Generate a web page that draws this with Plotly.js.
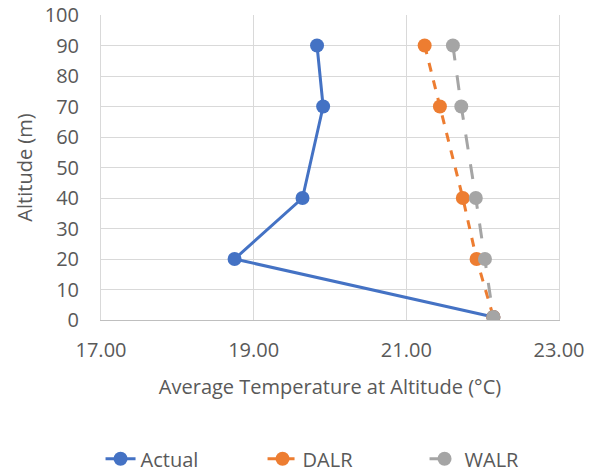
<!DOCTYPE html>
<html><head><meta charset="utf-8">
<script src="https://cdn.plot.ly/plotly-3.0.1.min.js"></script>
<style>html,body{margin:0;padding:0;background:#fff}#chart{width:600px;height:474px}</style>
</head><body><div id="chart"></div>
<script>
const altitude = [90, 70, 40, 20, 1];
const actualTemp = [19.83, 19.91, 19.64, 18.75, 22.14];
const dalrTemp = [21.24, 21.44, 21.74, 21.92, 22.14];
const walrTemp = [21.61, 21.72, 21.91, 22.03, 22.14];
const seriesNames = ["Actual", "DALR", "WALR"];
const xTicks = [17, 19, 21, 23];
const xTickLabels = ["17.00", "19.00", "21.00", "23.00"];

const font = "'Open Sans', sans-serif";
const mk = (x, name, color, dash) => ({
  x: x, y: altitude, name: name, type: "scatter", mode: "lines+markers",
  line: {color: color, width: 3, dash: dash},
  marker: {color: color, size: 14}
});
const data = [
  mk(actualTemp, seriesNames[0], "#4472C4", "solid"),
  mk(dalrTemp, seriesNames[1], "#ED7D31", "dash"),
  mk(walrTemp, seriesNames[2], "#A5A5A5", "longdash")
];
const layout = {
  width: 600, height: 474,
  margin: {l: 101, r: 41, t: 15, b: 154, autoexpand: false},
  paper_bgcolor: "#fff", plot_bgcolor: "#fff",
  font: {family: font, size: 20, color: "#595959"},
  showlegend: true,
  legend: {orientation: "h", x: -0.001, xanchor: "left", y: -0.455, yanchor: "middle",
           font: {size: 20, color: "#595959"}, traceorder: "normal", entrywidth: 117},
  xaxis: {range: [17, 23], tickvals: xTicks, ticktext: xTickLabels, automargin: false,
          showgrid: true, gridcolor: "#d9d9d9", gridwidth: 1,
          showline: true, linecolor: "#bfbfbf", linewidth: 1,
          zeroline: false, ticks: "", ticklabelstandoff: 12,
          title: {text: "Average Temperature at Altitude (°C)", font: {size: 20, color: "#595959"}, standoff: 17}},
  yaxis: {range: [0, 100], dtick: 10, showgrid: true, gridcolor: "#d9d9d9", gridwidth: 1,
          showline: true, linecolor: "#d9d9d9", mirror: true, automargin: false,
          zeroline: false, ticks: "", ticklabelstandoff: 17,
          title: {text: "Altitude (m)", font: {size: 20, color: "#595959"}, standoff: 6}}
};
Plotly.newPlot("chart", data, layout, {displayModeBar: false, staticPlot: true});
</script></body></html>
